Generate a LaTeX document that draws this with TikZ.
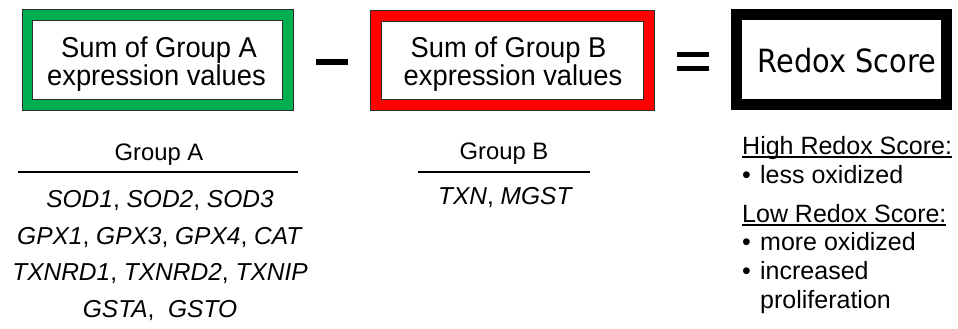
\documentclass[tikz,border=0pt]{standalone}
\usepackage{fontspec}
\setmainfont{Liberation Sans}
\newfontfamily\scorefont{DejaVu Sans}

\definecolor{framegreen}{RGB}{0,176,80}
\definecolor{framered}{RGB}{255,0,0}
\definecolor{edgegray}{RGB}{45,45,45}

% underline drawn close to the baseline, crossing descenders
\newcommand{\lowrule}[1]{\setbox0\hbox{#1}\rlap{\rule[-3.8pt]{\wd0}{2pt}}\box0}
% two centred lines at a fixed baseline distance, set slightly taller than wide
\newcommand{\tallpair}[2]{\scalebox{1}[1.05]{\vtop{\baselineskip=27.1pt\lineskiplimit=-30pt
  \halign{\hfil##\hfil\cr#1\cr#2\cr}}}}

\begin{document}
\begin{tikzpicture}[x=1pt,y=-1pt,
  framebox/.style={draw=edgegray, line width=0.8pt, double=#1,
    double distance=9.6pt, inner sep=0pt},
  boxtext/.style={font=\fontsize{27.3}{30}\selectfont, inner sep=0pt, anchor=base},
  scoretext/.style={font=\fontsize{32}{36}\scorefont, inner sep=0pt, anchor=base},
  grouplabel/.style={font=\fontsize{23.8}{28}\selectfont, inner sep=0pt, anchor=base},
  genes/.style={font=\fontsize{24.5}{28}\selectfont, inner sep=0pt, anchor=base},
  notes/.style={font=\fontsize{25}{28}\selectfont, inner sep=0pt, anchor=base west},
  rulebar/.style={line width=2pt},
  opbar/.style={fill=black, inner sep=0pt, minimum width=32pt}]
\useasboundingbox (0,0) rectangle (958,329);

% the three boxes of the equation
\node[framebox=framegreen, minimum width=260.5pt, minimum height=90pt] (boxA) at (157.8,60) {};
\node[framebox=framered, minimum width=273pt, minimum height=89pt, double distance=10.4pt] (boxB) at (512.5,60.5) {};
\node[draw=black, line width=11pt, inner sep=0pt, minimum width=210.5pt, minimum height=89.7pt] (boxR) at (841.5,59.8) {};

\node[boxtext] (sumA) at (156.5,57.5) {\tallpair{\kern5pt Sum of Group A}{expression values}};
\node[boxtext] (sumB) at (513,57.5) {\tallpair{Sum of Group B\kern9pt}{expression values}};
\node[scoretext] (score) at (847,73) {\scalebox{0.9}[1]{Redox Score}};

% operators
\node[opbar, minimum height=6pt] (minus) at (332,62) {};
\node[opbar, minimum height=5pt] (eqtop) at (693,54.5) {};
\node[opbar, minimum height=5pt] (eqbot) at (693,68.5) {};

% Group A list
\node[grouplabel] (labA) at (159,160) {Group A};
\coordinate (ruleAl) at (18,172);
\coordinate (ruleAr) at (298,172);
\draw[rulebar] (ruleAl) -- (ruleAr);
\node[genes] (geneA1) at (160,207) {\textit{SOD1}, \textit{SOD2}, \textit{SOD3}};
\node[genes] (geneA2) at (160,244) {\textit{GPX1}, \textit{GPX3}, \textit{GPX4}, \textit{CAT}};
\node[genes] (geneA3) at (160,280.5) {\textit{TXNRD1}, \textit{TXNRD2}, \textit{TXNIP}};
\node[genes] (geneA4) at (160,317) {\textit{GSTA},\ \ \textit{GSTO}};

% Group B list
\node[grouplabel] (labB) at (504,159) {Group B};
\coordinate (ruleBl) at (418,172);
\coordinate (ruleBr) at (590,172);
\draw[rulebar] (ruleBl) -- (ruleBr);
\node[genes] (geneB1) at (505.5,204) {\textit{TXN}, \textit{MGST}};

% interpretation of the score
\node[notes] (high) at (742,154) {\lowrule{High Redox Score:}};
\node[notes] (high1) at (742,183) {\makebox[18pt][l]{•}less oxidized};
\node[notes] (low) at (742,222.5) {\lowrule{Low Redox Score:}};
\node[notes] (low1) at (742,250) {\makebox[18pt][l]{•}more oxidized};
\node[notes] (low2) at (742,279) {\makebox[18pt][l]{•}increased};
\node[notes] (low3) at (760,308) {proliferation};
\end{tikzpicture}
\end{document}
